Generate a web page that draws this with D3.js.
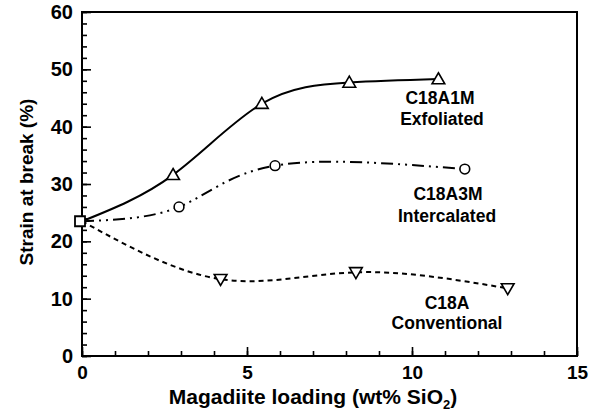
<!DOCTYPE html>
<html><head><meta charset="utf-8">
<script src="https://cdn.jsdelivr.net/npm/d3@7"></script>
<style>body{margin:0;background:#fff}text{font-family:"Liberation Sans",Arial,sans-serif;font-weight:bold;fill:#000}</style>
</head><body><svg id="c" width="595" height="412"></svg>
<script>
const exfX = [0, 2.76, 5.45, 8.1, 10.8];
const exfY = [23.5, 31.6, 44, 47.7, 48.3];
const intX = [0, 2.94, 5.85, 11.6];
const intY = [23.5, 26, 33.2, 32.6];
const conX = [0, 4.2, 8.3, 12.9];
const conY = [23.5, 13.4, 14.6, 11.8];
const xTicks = [0, 5, 10, 15];
const yTicks = [0, 10, 20, 30, 40, 50, 60];

const svg = d3.select("#c");
const L = 82, R = 577, T = 12, B = 356;
const x = d3.scaleLinear().domain([0, 15]).range([L, R]);
const y = d3.scaleLinear().domain([0, 60]).range([B, T]);

svg.append("rect").attr("x", L).attr("y", T).attr("width", R - L).attr("height", B - T)
  .attr("fill", "none").attr("stroke", "#000").attr("stroke-width", 2);

svg.append("g").attr("transform", `translate(0,${B})`)
  .call(d3.axisBottom(x).tickValues(d3.range(0, 16, 1)).tickSize(-5).tickFormat(""));
svg.append("g").attr("transform", `translate(${L},0)`)
  .call(d3.axisLeft(y).tickValues(d3.range(0, 61, 2)).tickSize(-5).tickFormat(""));
svg.append("g").attr("transform", `translate(0,${B})`)
  .call(d3.axisBottom(x).tickValues(xTicks).tickSize(-9).tickPadding(10).tickFormat(d3.format("d")))
  .call(g => g.selectAll("text").attr("font-size", 19).attr("font-family", "Liberation Sans").attr("font-weight", "bold"));
svg.append("g").attr("transform", `translate(${L},0)`)
  .call(d3.axisLeft(y).tickValues(yTicks).tickSize(-9).tickPadding(9).tickFormat(d3.format("d")))
  .call(g => g.selectAll("text").attr("font-size", 20).attr("font-family", "Liberation Sans").attr("font-weight", "bold"));
svg.selectAll(".domain").remove();
svg.selectAll(".tick line").attr("stroke", "#000").attr("stroke-width", 1.6);

const line = d3.line().x(d => x(d[0])).y(d => y(d[1])).curve(d3.curveNatural);
const series = [
  {xs: exfX, ys: exfY, dash: null, marker: "up"},
  {xs: intX, ys: intY, dash: "12,5,2,5,2,5", marker: "circle"},
  {xs: conX, ys: conY, dash: "5,4", marker: "down"}
];
series.forEach(s => {
  const pts = s.xs.map((v, i) => [v, s.ys[i]]);
  svg.append("path").datum(pts).attr("d", line).attr("fill", "none")
    .attr("stroke", "#000").attr("stroke-width", 2).attr("stroke-dasharray", s.dash);
  const sym = s.marker === "circle" ? d3.symbolCircle : d3.symbolTriangle;
  const size = s.marker === "circle" ? 75 : 70;
  svg.selectAll(null).data(pts.slice(1)).enter().append("path")
    .attr("d", d3.symbol(sym, size))
    .attr("transform", d => `translate(${x(d[0])},${y(d[1]) + (s.marker === "up" ? 1 : s.marker === "down" ? -1 : 0)})` + (s.marker === "down" ? " rotate(180)" : ""))
    .attr("fill", "#fff").attr("stroke", "#000").attr("stroke-width", 1.6);
});
svg.append("path").attr("d", d3.symbol(d3.symbolSquare, 100))
  .attr("transform", `translate(${x(exfX[0]) - 2},${y(exfY[0])})`)
  .attr("fill", "#fff").attr("stroke", "#000").attr("stroke-width", 1.8);

const labels = [
  {t: "C18A1M", x: 440, y: 104}, {t: "Exfoliated", x: 442, y: 125},
  {t: "C18A3M", x: 448, y: 200}, {t: "Intercalated", x: 447, y: 222},
  {t: "C18A", x: 447, y: 309}, {t: "Conventional", x: 447, y: 329}
];
svg.selectAll(null).data(labels).enter().append("text")
  .attr("x", d => d.x).attr("y", d => d.y).attr("text-anchor", "middle")
  .attr("font-size", 17.5).text(d => d.t);

svg.append("text").attr("transform", "translate(33,182) rotate(-90)")
  .attr("text-anchor", "middle").attr("font-size", 19).text("Strain at break (%)");
const xt = svg.append("text").attr("x", 313).attr("y", 404).attr("text-anchor", "middle").attr("font-size", 21);
xt.append("tspan").text("Magadiite loading (wt% SiO");
xt.append("tspan").attr("font-size", 13).attr("dy", 5).text("2");
xt.append("tspan").attr("dy", -5).text(")");
</script></body></html>
